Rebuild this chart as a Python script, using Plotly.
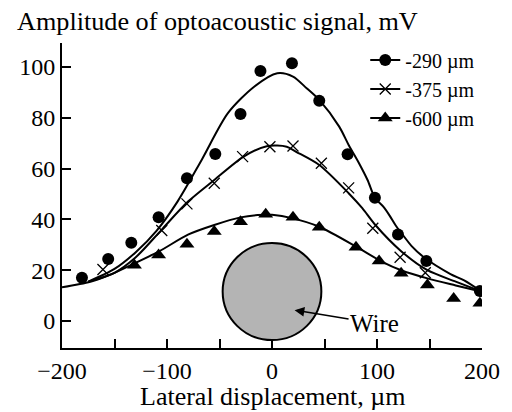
import plotly.graph_objects as go

# Measured amplitudes (points) at three source depths
x_290 = [-181, -156, -134, -108, -81, -54, -30, -11, 19, 45, 72, 98, 120, 147, 198]
y_290 = [17, 24.4, 30.8, 40.8, 56.2, 65.7, 81.5, 98.4, 101.4, 86.7, 65.6, 48.5, 34.1, 23.6, 11.8]

x_375 = [-161, -105, -81, -55, -28, -2, 20, 47, 73, 96, 122, 146]
y_375 = [20.3, 35.6, 46.1, 54.2, 64.7, 68.6, 68.9, 62.1, 52.4, 36.5, 25.1, 19]

x_600 = [-131, -108, -81, -55, -30, -6, 20, 45, 80, 102, 123, 148, 173, 198]
y_600 = [22, 26, 30.2, 35.2, 39.1, 42, 40.8, 36.9, 29, 23.6, 18.8, 14.2, 8.9, 7]

# Calculated profiles (smooth curves)
cx_290 = [-175, -150, -130, -110, -90, -67, -42, -17, 5, 20, 33, 45, 64, 73, 83, 91, 98, 106, 112, 118, 124, 133, 145, 170, 183, 200]
cy_290 = [15.5, 20.5, 27, 35.5, 47, 63.4, 81.8, 92.2, 97.5, 96.2, 91.6, 87, 76.5, 69.3, 62, 55.5, 48.5, 45, 41.5, 37.5, 34.2, 29.5, 25, 18.5, 16, 11.5]

cx_375 = [-175, -150, -130, -105, -80, -55, -27, -5, 14, 23, 45, 73, 86, 98, 123, 148, 175, 200]
cy_375 = [15.5, 19, 25, 36, 47, 55.5, 64.7, 68.8, 68.6, 66.6, 61.4, 50.3, 44.4, 38, 27.5, 20, 15.5, 11.5]

cx_600 = [-200, -173, -155, -131, -108, -80, -55, -30, -14, 0, 20, 45, 80, 105, 123, 148, 175, 200]
cy_600 = [13.3, 15.5, 18.1, 22.7, 27.3, 34, 37.8, 40.8, 41.7, 41.8, 40.4, 37.1, 29.3, 23.3, 20, 16.8, 14, 11.5]

series_names = ["-290 µm", "-375 µm", "-600 µm"]
x_ticks = [-200, -150, -100, -50, 0, 50, 100, 150, 200]
x_tick_text = ["\u2212200", "", "\u2212100", "", "0", "", "100", "", "200"]
y_ticks = [0, 20, 40, 60, 80, 100]

# Wire cross-section (data units)
wire_x = [-47, 47]
wire_y = [-7.5, 30.7]

FONT = "Liberation Serif"
BLACK = "black"

fig = go.Figure()

# wire disc drawn below everything else
fig.add_shape(type="circle", xref="x", yref="y",
              x0=wire_x[0], x1=wire_x[1], y0=wire_y[0], y1=wire_y[1],
              fillcolor="#b4b4b4", line=dict(color=BLACK, width=2), layer="below")

curves = [(cx_290, cy_290), (cx_375, cy_375), (cx_600, cy_600)]
for cx, cy in curves:
    fig.add_trace(go.Scatter(x=cx, y=cy, mode="lines", showlegend=False,
                             line=dict(color=BLACK, width=2, shape="spline", smoothing=0.8),
                             hoverinfo="skip"))

markers = [
    dict(symbol="circle", size=12, color=BLACK),
    dict(symbol="x-thin", size=11, color=BLACK, line=dict(color=BLACK, width=1.3)),
    dict(symbol="triangle-up", size=13, color=BLACK),
]
points = [(x_290, y_290), (x_375, y_375), (x_600, y_600)]
for (px, py), mk in zip(points, markers):
    fig.add_trace(go.Scatter(x=px, y=py, mode="markers", marker=mk, showlegend=False))

# legend entries (line with marker)
for name, mk in zip(series_names, markers):
    fig.add_trace(go.Scatter(x=[None], y=[None], mode="lines+markers", name=name,
                             marker=mk, line=dict(color=BLACK, width=2)))

fig.add_annotation(x=21.5, y=4.3, xref="x", yref="y", text="Wire",
                   showarrow=True, ax=80, ay=13, arrowhead=2, arrowsize=1.3,
                   arrowwidth=1.5, arrowcolor=BLACK,
                   font=dict(family=FONT, size=25, color=BLACK))

# y-axis caption, placed above the plot at the top left
fig.add_annotation(x=0, y=1, xref="paper", yref="paper", xanchor="left", yanchor="middle",
                   xshift=-47, yshift=22, showarrow=False,
                   text="Amplitude of optoacoustic signal, mV",
                   font=dict(family=FONT, size=26.2, color=BLACK))

# x-axis caption below the tick labels
fig.add_annotation(x=0.5, y=0, xref="paper", yref="paper", xanchor="center", yanchor="middle",
                   yshift=-48, showarrow=False,
                   text="Lateral displacement, µm",
                   font=dict(family=FONT, size=26, color=BLACK))

fig.update_layout(
    width=512, height=412, autosize=False,
    margin=dict(l=62, r=23, t=43, b=64),
    paper_bgcolor="white", plot_bgcolor="white",
    font=dict(family=FONT, size=24, color=BLACK),
    showlegend=True,
    legend=dict(x=0.722, y=1.008, xanchor="left", yanchor="top",
                bgcolor="rgba(0,0,0,0)", font=dict(family=FONT, size=20),
                tracegroupgap=0, itemwidth=30),
    xaxis=dict(range=[-200, 200], tickvals=x_ticks, ticktext=x_tick_text,
               ticks="inside", ticklen=9, tickwidth=1.5, tickcolor=BLACK,
               showline=True, linecolor=BLACK, linewidth=2, showgrid=False,
               zeroline=False,
               tickfont=dict(family=FONT, size=24)),
    yaxis=dict(range=[-10.6, 109.4], tickvals=y_ticks,
               ticks="inside", ticklen=9, tickwidth=1.5, tickcolor=BLACK,
               showline=True, linecolor=BLACK, linewidth=2, showgrid=False,
               zeroline=False, tickfont=dict(family=FONT, size=24)),
)

fig.write_html("out.html")
